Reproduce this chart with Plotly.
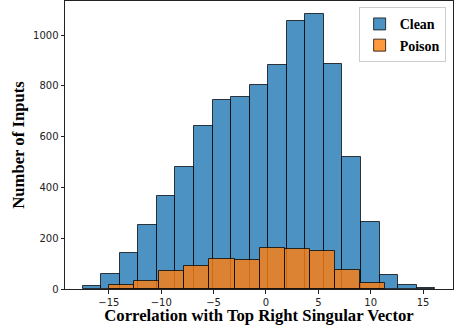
import numpy as np
import plotly.graph_objects as go

# Histogram data
clean_lo, clean_hi = -17.51, 16.17
clean_counts = [13, 59, 142, 252, 367, 480, 643, 744, 756, 804, 882, 1057, 1081, 884, 518, 264, 57, 16, 4]
poison_lo, poison_hi = -15.0, 11.40
poison_counts = [16, 30, 71, 92, 117, 114, 163, 157, 150, 75, 24]

x_ticks = [-15, -10, -5, 0, 5, 10, 15]
y_ticks = [0, 200, 400, 600, 800, 1000]


def bins(lo, hi, n):
    edges = np.linspace(lo, hi, n + 1)
    centers = (edges[:-1] + edges[1:]) / 2
    return centers, edges[1] - edges[0]


cc, cw = bins(clean_lo, clean_hi, len(clean_counts))
pc, pw = bins(poison_lo, poison_hi, len(poison_counts))

fig = go.Figure()
fig.add_trace(go.Bar(
    x=cc, y=clean_counts, width=cw, name="<b>Clean</b>",
    marker=dict(color="rgba(31,119,180,0.8)", line=dict(color="rgba(0,0,0,0.75)", width=1)),
))
fig.add_trace(go.Bar(
    x=pc, y=poison_counts, width=pw, name="<b>Poison</b>",
    marker=dict(color="rgba(255,127,14,0.8)", line=dict(color="rgba(0,0,0,0.75)", width=1)),
))

serif = "Liberation Serif, Times New Roman, serif"
fig.update_layout(
    width=454, height=325,
    margin=dict(l=65, r=1, t=1, b=36),
    barmode="overlay",
    bargap=0,
    plot_bgcolor="white",
    paper_bgcolor="white",
    font=dict(family="DejaVu Sans", size=10, color="#222"),
    legend=dict(
        x=0.981, y=0.978, xanchor="right", yanchor="top",
        bgcolor="rgba(255,255,255,0.8)", bordercolor="#cccccc", borderwidth=1,
        font=dict(family=serif, size=14, color="black"),
    ),
    xaxis=dict(
        range=[-19.19, 17.86], tickvals=x_ticks,
        ticks="outside", ticklen=3.5, tickwidth=0.8, tickcolor="#222",
        showline=True, linecolor="#222", linewidth=1, mirror=True,
        showgrid=False, zeroline=False,
        title=dict(text="<b>Correlation with Top Right Singular Vector</b>",
                   font=dict(family=serif, size=16.7, color="black"), standoff=4),
    ),
    yaxis=dict(
        range=[0, 1134], tickvals=y_ticks,
        ticks="outside", ticklen=3.5, tickwidth=0.8, tickcolor="#222",
        showline=True, linecolor="#222", linewidth=1, mirror=True,
        showgrid=False, zeroline=False,
        title=dict(text="<b>Number of Inputs</b>",
                   font=dict(family=serif, size=16.7, color="black"), standoff=4),
    ),
)

fig.write_html("out.html")
